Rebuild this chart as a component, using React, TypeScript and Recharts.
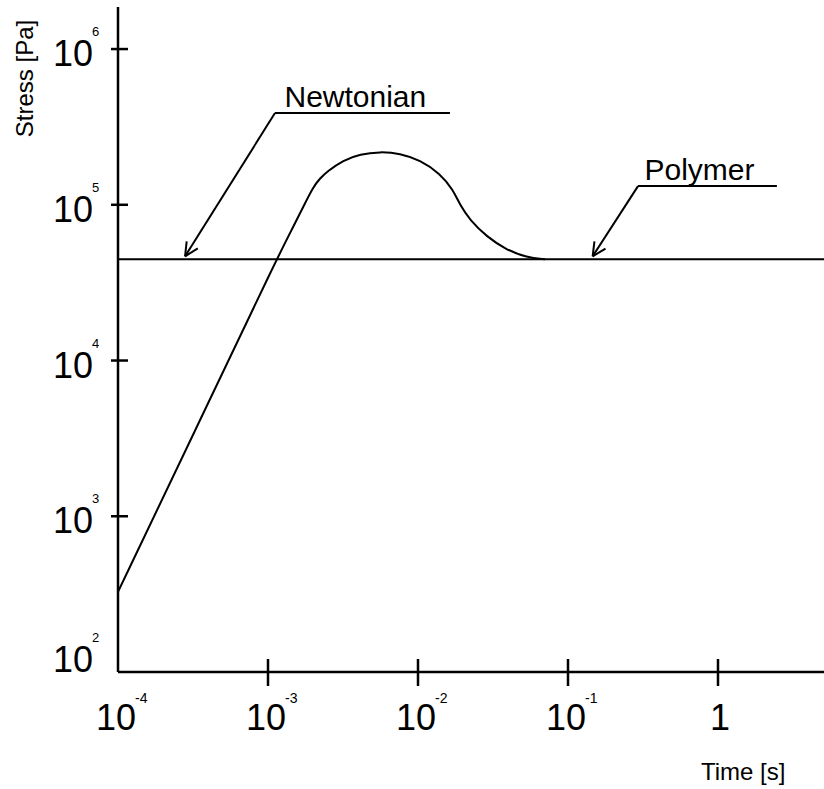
import React from 'react';
import { LineChart, Line, XAxis, YAxis, ReferenceLine, ReferenceDot } from 'recharts';

// ---- data ----
const xTicks = [1e-4, 1e-3, 1e-2, 1e-1, 1];
const yTicks = [1e2, 1e3, 1e4, 1e5, 1e6];

const polymerTime = [1e-4, 3.52e-4, 1.143e-3, 1.475e-3, 1.719e-3, 2.004e-3, 2.22e-3, 2.46e-3, 3.18e-3, 4.11e-3, 5.58e-3, 7.59e-3, 1.031e-2, 1.402e-2, 1.719e-2, 1.905e-2, 2.22e-2, 2.87e-2, 3.9e-2, 5.31e-2, 7.03e-2];
const polymerStress = [327, 4130, 44900, 72300, 97200, 130600, 147400, 162900, 193600, 211800, 219100, 214000, 193600, 159200, 124300, 99500, 79800, 62400, 51230, 45980, 44700];

const newtonianTime = [1e-4, 5.09];
const newtonianStress = [44700, 44700];

const annotationLabels = ['Newtonian', 'Polymer'];
const labelTime = [1.288e-3, 0.3236];
const labelStress = [4.25e5, 1.442e5];
const elbowTime = [1.113e-3, 0.293];
const underlineEndTime = [1.634e-2, 2.47];
const underlineStress = [3.88e5, 1.318e5];
const tipTime = [2.8e-4, 0.146];
const tipStress = [4.67e4, 4.67e4];

const xDomain = [1e-4, 5.09];
const yDomain = [100, 1.862e6];

const polymerData = polymerTime.map((t, i) => ({ t, s: polymerStress[i] }));
const newtonianData = newtonianTime.map((t, i) => ({ t, s: newtonianStress[i] }));

const FONT = '"Liberation Sans", Arial, sans-serif';

const expOf = (v: number) => Math.round(Math.log10(v));

const XTick = (props: any) => {
  const { x, y, payload } = props;
  const e = expOf(payload.value);
  const first = payload.value === xDomain[0];
  return (
    <g>
      {!first && <line x1={x} x2={x} y1={y - 13} y2={y + 14} stroke="#000" strokeWidth={2.5} />}
      {e === 0 ? (
        <text x={x + 2} y={y + 58} textAnchor="middle" fontSize={36} fontFamily={FONT} fill="#000">1</text>
      ) : (
        <>
          <text x={x - 2} y={y + 58} textAnchor="middle" fontSize={36} fontFamily={FONT} fill="#000">10</text>
          <text x={x + 17} y={y + 31} fontSize={14} fontFamily={FONT} fill="#000">{String(e)}</text>
        </>
      )}
    </g>
  );
};

const YTick = (props: any) => {
  const { x, y, payload } = props;
  const e = expOf(payload.value);
  const first = payload.value === yDomain[0];
  const base = first ? y : y + 17;
  return (
    <g>
      {!first && <line x1={x - 7} x2={x + 10} y1={y} y2={y} stroke="#000" strokeWidth={2.5} />}
      <text x={x - 25} y={base} textAnchor="end" fontSize={36} fontFamily={FONT} fill="#000">10</text>
      <text x={x - 26} y={base - 30} fontSize={13} fontFamily={FONT} fill="#000">{String(e)}</text>
    </g>
  );
};

const ArrowLine = (props: any) => {
  const { x1, y1, x2, y2 } = props;
  const dx = x1 - x2;
  const dy = y1 - y2;
  const len = Math.sqrt(dx * dx + dy * dy) || 1;
  const ux = dx / len;
  const uy = dy / len;
  const L = 15;
  const th = (26 * Math.PI) / 180;
  const rot = (a: number) => ({ x: ux * Math.cos(a) - uy * Math.sin(a), y: ux * Math.sin(a) + uy * Math.cos(a) });
  const b1 = rot(th);
  const b2 = rot(-th);
  return (
    <g>
      <line x1={x1} y1={y1} x2={x2} y2={y2} stroke="#000" strokeWidth={2} />
      <line x1={x2} y1={y2} x2={x2 + b1.x * L} y2={y2 + b1.y * L} stroke="#000" strokeWidth={2} />
      <line x1={x2} y1={y2} x2={x2 + b2.x * L} y2={y2 + b2.y * L} stroke="#000" strokeWidth={2} />
    </g>
  );
};

export default function App() {
  return (
    <div style={{ position: 'absolute', left: 0, top: 0, background: '#fff' }}>
      <LineChart width={824} height={789} margin={{ top: 7, right: 0, bottom: 0, left: 0 }}>
        <XAxis
          dataKey="t"
          type="number"
          scale="log"
          domain={xDomain}
          allowDataOverflow
          ticks={xTicks}
          tick={<XTick />}
          tickLine={false}
          tickSize={0}
          tickMargin={0}
          height={117}
          axisLine={{ stroke: '#000', strokeWidth: 2.5 }}
          label={(p: any) => {
            const vb = p.viewBox || { x: 118, y: 672, width: 706, height: 117 };
            return (
              <text x={vb.x + vb.width - 123} y={vb.y + 108} fontSize={24} fontFamily={FONT} fill="#000">
                Time [s]
              </text>
            );
          }}
        />
        <YAxis
          dataKey="s"
          type="number"
          scale="log"
          domain={yDomain}
          allowDataOverflow
          ticks={yTicks}
          tick={<YTick />}
          tickLine={false}
          tickSize={0}
          tickMargin={0}
          width={118}
          axisLine={{ stroke: '#000', strokeWidth: 2.5 }}
          label={(p: any) => {
            const vb = p.viewBox || { x: 0, y: 7, width: 118, height: 665 };
            const cx = vb.x + 33;
            const cy = vb.y + 71.5;
            return (
              <text x={cx} y={cy} transform={`rotate(-90, ${cx}, ${cy})`} textAnchor="middle" fontSize={24} fontFamily={FONT} fill="#000">
                Stress [Pa]
              </text>
            );
          }}
        />
        <Line data={newtonianData} dataKey="s" type="linear" stroke="#000" strokeWidth={2} dot={false} isAnimationActive={false} />
        <Line data={polymerData} dataKey="s" type="basis" stroke="#000" strokeWidth={2} dot={false} isAnimationActive={false} />
        {annotationLabels.map((name, i) => (
          <ReferenceLine
            key={`u-${name}`}
            segment={[{ x: elbowTime[i], y: underlineStress[i] }, { x: underlineEndTime[i], y: underlineStress[i] }]}
            stroke="#000"
            strokeWidth={2}
            ifOverflow="visible"
          />
        ))}
        {annotationLabels.map((name, i) => (
          <ReferenceLine
            key={`a-${name}`}
            segment={[{ x: elbowTime[i], y: underlineStress[i] }, { x: tipTime[i], y: tipStress[i] }]}
            ifOverflow="visible"
            shape={(p: any) => <ArrowLine {...p} />}
          />
        ))}
        {annotationLabels.map((name, i) => (
          <ReferenceDot
            key={`l-${name}`}
            x={labelTime[i]}
            y={labelStress[i]}
            r={0}
            ifOverflow="visible"
            shape={(p: any) => (
              <text x={p.cx} y={p.cy} fontSize={30} fontFamily={FONT} fill="#000">
                {name}
              </text>
            )}
          />
        ))}
      </LineChart>
    </div>
  );
}
